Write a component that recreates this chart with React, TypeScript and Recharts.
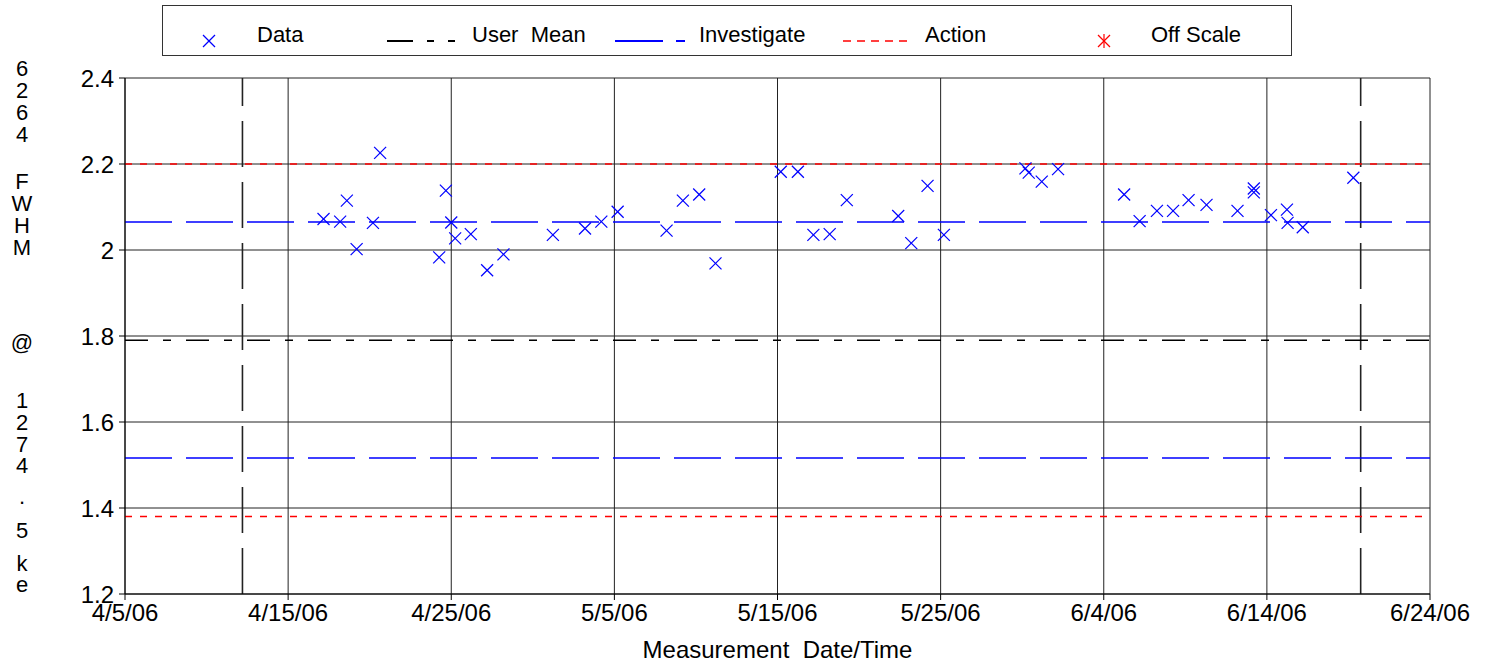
import { ScatterChart, Scatter, XAxis, YAxis, CartesianGrid, ReferenceLine, Label } from "recharts";

// days after 4/5/06 and FWHM readings
const DAYS = [
  12.17, 13.19, 13.6, 14.2, 15.2, 15.64, 19.26, 19.67, 20.0, 20.24, 21.2, 22.2, 23.2, 26.23, 28.2, 29.2,
  30.2, 33.2, 34.2, 35.2, 36.2, 40.2, 41.25, 42.2, 43.2, 44.25, 47.4, 48.2, 49.2, 50.2, 55.2, 55.4,
  56.2, 57.2, 61.25, 62.2, 63.26, 64.25, 65.2, 66.3, 68.2, 69.2, 69.2, 70.25, 71.23, 71.27, 72.2, 75.3,
];
const FWHM = [
  2.072, 2.066, 2.115, 2.002, 2.063, 2.226, 1.983, 2.138, 2.064, 2.027, 2.037, 1.953, 1.99, 2.035, 2.05, 2.066,
  2.089, 2.045, 2.115, 2.129, 1.969, 2.182, 2.182, 2.035, 2.037, 2.116, 2.079, 2.016, 2.149, 2.035, 2.19, 2.18,
  2.159, 2.188, 2.129, 2.067, 2.091, 2.091, 2.116, 2.105, 2.091, 2.143, 2.134, 2.081, 2.094, 2.063, 2.053, 2.168,
];
const X_TICKS = [0, 10, 20, 30, 40, 50, 60, 70, 80];
const Y_TICKS = [1.2, 1.4, 1.6, 1.8, 2.0, 2.2, 2.4];
const ACTION = [2.2, 1.38];
const INVESTIGATE = [2.065, 1.516];
const USER_MEAN = 1.79;
const PERIOD_MARKS = [7.2, 75.75];
const Y_TITLE = ["6", "2", "6", "4", "F", "W", "H", "M", "@", "1", "2", "7", "4", ".", "5", "k", "e"];
const Y_TITLE_POS = [69, 91, 113, 135, 182, 204, 226, 248, 343, 401, 423, 445, 466, 497, 531, 564, 585];

const data = DAYS.map((d, i) => ({ day: d, fwhm: FWHM[i] }));

const FONT = '"Liberation Sans", Arial, sans-serif';

const fmtDate = (d: number) => {
  const t = new Date(2006, 3, 5 + d);
  return `${t.getMonth() + 1}/${t.getDate()}/06`;
};
const fmtY = (v: number) => String(Number(v.toFixed(1)));

const Cross = (p: any) => {
  const { cx, cy } = p;
  const s = 6;
  return (
    <g stroke="#0000ff" strokeWidth={1.2}>
      <line x1={cx - s} y1={cy - s} x2={cx + s} y2={cy + s} />
      <line x1={cx - s} y1={cy + s} x2={cx + s} y2={cy - s} />
    </g>
  );
};

const XTitle = (p: any) => {
  const vb = p.viewBox;
  return (
    <text x={vb.x + vb.width / 2} y={vb.y + 64} textAnchor="middle" fontSize={24} fill="#000" xmlSpace="preserve" style={{ whiteSpace: "pre" }}>
      Measurement  Date/Time
    </text>
  );
};

function LegendBox() {
  const txt = { position: "absolute" as const, top: 16, fontSize: 22, lineHeight: "26px", whiteSpace: "pre" as const };
  return (
    <div style={{ position: "absolute", left: 162, top: 5, width: 1130, height: 51, border: "1.5px solid #333", boxSizing: "border-box" }}>
      <svg width={1130} height={51} style={{ position: "absolute", left: -1.5, top: -6.5 }}>
        {/* Data */}
        <g stroke="#0000ff" strokeWidth={1.2}>
          <line x1={41} y1={35} x2={53} y2={47} />
          <line x1={41} y1={47} x2={53} y2={35} />
        </g>
        {/* User mean */}
        <line x1={225} y1={41} x2={294} y2={41} stroke="#000" strokeWidth={2} strokeDasharray="26 14 7 14 7 30" />
        {/* Investigate */}
        <line x1={453} y1={41} x2={523} y2={41} stroke="#0000ff" strokeWidth={2} strokeDasharray="48 13 9 30" />
        {/* Action */}
        <line x1={681} y1={41} x2={747} y2={41} stroke="#ff0000" strokeWidth={1.5} strokeDasharray="8 6" />
        {/* Off scale */}
        <g stroke="#ff0000" strokeWidth={1.2}>
          <line x1={936} y1={35} x2={948} y2={47} />
          <line x1={936} y1={47} x2={948} y2={35} />
          <line x1={942} y1={34} x2={942} y2={48} />
        </g>
      </svg>
      <span style={{ ...txt, left: 94 }}>Data</span>
      <span style={{ ...txt, left: 309 }}>User  Mean</span>
      <span style={{ ...txt, left: 536 }}>Investigate</span>
      <span style={{ ...txt, left: 762 }}>Action</span>
      <span style={{ ...txt, left: 988 }}>Off Scale</span>
    </div>
  );
}

export default function App() {
  return (
    <div style={{ position: "absolute", left: 0, top: 0, width: 1485, height: 669, background: "#fff", fontFamily: FONT, color: "#000" }}>
      <LegendBox />
      {Y_TITLE.map((c, i) => (
        <div key={i} style={{ position: "absolute", left: 10, width: 24, top: Y_TITLE_POS[i] - 10, lineHeight: "20px", fontSize: 22, textAlign: "center" }}>
          {c}
        </div>
      ))}
      <ScatterChart width={1485} height={669} margin={{ top: 78, right: 55, bottom: 0, left: 50 }} style={{ fontFamily: FONT }}>
        <CartesianGrid stroke="#222" strokeWidth={1} />
        <XAxis
          type="number"
          dataKey="day"
          domain={[0, 80]}
          ticks={X_TICKS}
          interval={0}
          allowDataOverflow
          tickFormatter={fmtDate}
          height={75}
          tickSize={6}
          tickMargin={4}
          stroke="#000"
          tick={{ fill: "#000", fontSize: 24 }}
        >
          <Label content={XTitle} />
        </XAxis>
        <YAxis
          type="number"
          dataKey="fwhm"
          domain={[1.2, 2.4]}
          ticks={Y_TICKS}
          interval={0}
          allowDataOverflow
          tickFormatter={fmtY}
          width={75}
          tickSize={6}
          tickMargin={5}
          stroke="#000"
          tick={{ fill: "#000", fontSize: 24 }}
        />
        {PERIOD_MARKS.map((x) => (
          <ReferenceLine key={x} x={x} stroke="#222" strokeWidth={1.6} strokeDasharray="46 15" />
        ))}
        <ReferenceLine y={USER_MEAN} stroke="#000" strokeWidth={1.5} strokeDasharray="23 15 8 15" />
        {INVESTIGATE.map((y) => (
          <ReferenceLine key={y} y={y} stroke="#0000ff" strokeWidth={1.5} strokeDasharray="47 14" />
        ))}
        {ACTION.map((y) => (
          <ReferenceLine key={y} y={y} stroke="#ff0000" strokeWidth={1.5} strokeDasharray="7 8" />
        ))}
        <Scatter data={data} shape={Cross} isAnimationActive={false} />
      </ScatterChart>
    </div>
  );
}
